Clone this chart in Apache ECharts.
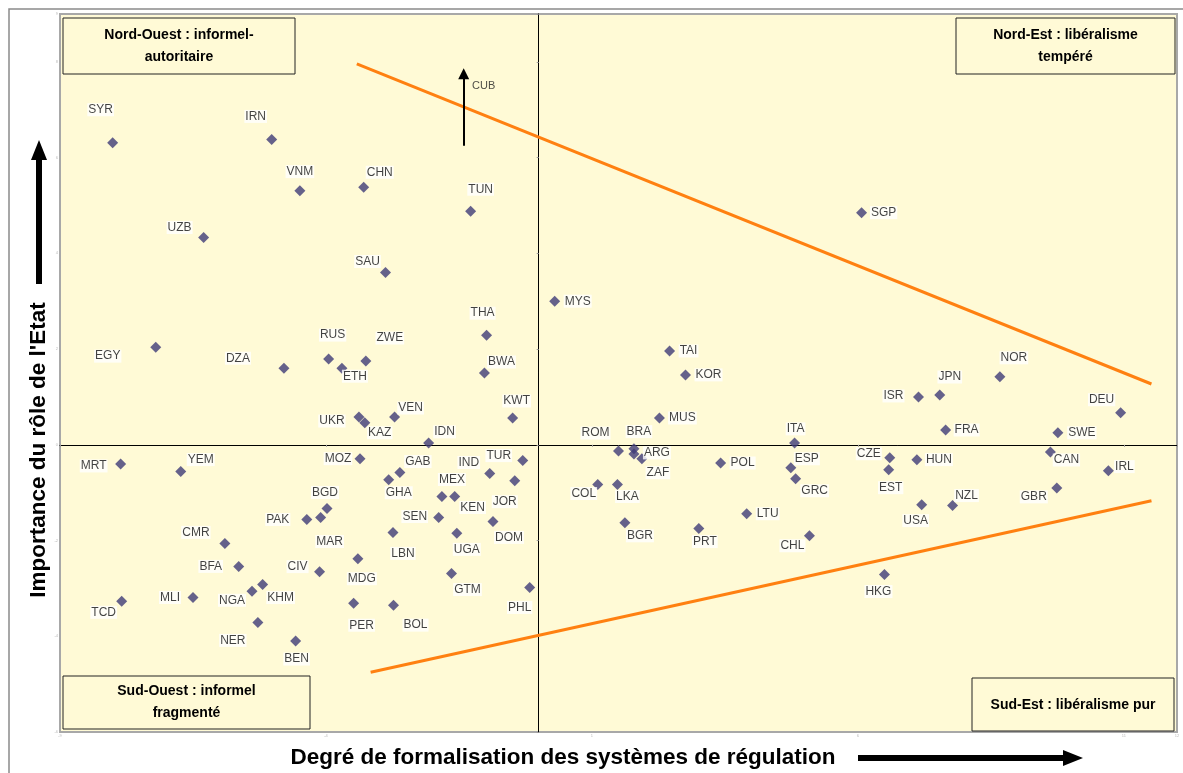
<!DOCTYPE html>
<html>
<head>
<meta charset="utf-8">
<script src="https://cdn.jsdelivr.net/npm/echarts@6/dist/echarts.min.js"></script>
<style>
html,body{margin:0;padding:0;background:#fff;}
#chart{width:1183px;height:773px;}
</style>
</head>
<body>
<div id="chart"></div>
<script>
// ---- data ----
const countries = ['SYR','IRN','VNM','CHN','UZB','TUN','SAU','MYS','THA','EGY','DZA','RUS','ETH','ZWE','BWA','TAI','KOR','KWT','UKR','KAZ','VEN','IDN','MUS','SGP','NOR','JPN','ISR','DEU','FRA','SWE','ITA','ROM','BRA','ARG','ZAF','POL','ESP','GRC','CZE','EST','HUN','CAN','IRL','GBR','NZL','USA','LKA','COL','BGR','PRT','LTU','CHL','HKG','MRT','YEM','MOZ','GAB','GHA','TUR','IND','JOR','MEX','KEN','DOM','SEN','UGA','LBN','GTM','PHL','BOL','PER','MDG','MAR','PAK','BGD','CMR','BFA','CIV','MLI','TCD','NGA','KHM','NER','BEN'];
const formalisation = [-8.01,-5.02,-4.49,-3.29,-6.30,-1.28,-2.88,0.30,-0.98,-7.20,-4.79,-3.95,-3.70,-3.25,-1.02,2.46,2.76,-0.49,-3.38,-3.27,-2.71,-2.07,2.27,6.07,8.67,7.54,7.14,10.94,7.65,9.76,4.81,1.50,1.79,1.79,1.94,3.42,4.74,4.83,6.60,6.58,7.11,9.62,10.71,9.74,7.78,7.20,1.48,1.11,1.62,3.01,3.91,5.09,6.50,-7.86,-6.73,-3.36,-2.61,-2.82,-0.30,-0.92,-0.45,-1.82,-1.58,-0.86,-1.88,-1.54,-2.74,-1.64,-0.17,-2.73,-3.48,-3.40,-4.10,-4.36,-3.98,-5.90,-5.64,-4.12,-6.50,-7.84,-5.39,-5.19,-5.28,-4.57];
const roleEtat = [6.31,6.38,5.31,5.38,4.33,4.88,3.60,3.00,2.29,2.04,1.60,1.79,1.60,1.75,1.50,1.96,1.46,0.56,0.58,0.46,0.58,0.04,0.56,4.85,1.42,1.04,1.00,0.67,0.31,0.25,0.04,-0.13,-0.08,-0.19,-0.29,-0.38,-0.48,-0.71,-0.27,-0.52,-0.31,-0.15,-0.54,-0.90,-1.27,-1.25,-0.83,-0.83,-1.63,-1.75,-1.44,-1.90,-2.71,-0.40,-0.56,-0.29,-0.58,-0.73,-0.33,-0.60,-0.75,-1.08,-1.08,-1.60,-1.52,-1.85,-1.83,-2.69,-2.98,-3.35,-3.31,-2.38,-1.52,-1.56,-1.33,-2.06,-2.54,-2.65,-3.19,-3.27,-3.06,-2.92,-3.71,-4.10];
const upperLine = [[-3.42,7.96],[11.52,1.27]];
const lowerLine = [[-3.16,-4.75],[11.52,-1.17]];
const cubArrow = {name:'CUB', x:-1.41, from:6.25, to:7.75};
const xTicks = {min:-9, max:12, interval:5};
const yTicks = {min:-6, max:9, interval:2};
const quadrantTitles = {
  nw:['Nord-Ouest : informel-','autoritaire'],
  ne:['Nord-Est : libéralisme','tempéré'],
  sw:['Sud-Ouest : informel','fragmenté'],
  se:['Sud-Est : libéralisme pur']
};
const xTitle = 'Degré de formalisation des systèmes de régulation';
const yTitle = "Importance du rôle de l'Etat";

// ---- label placement (layout only) ----
const labelOffsets = [[-12,-33],[-16,-23],[0,-19],[16,-15],[-24,-10],[10,-22],[-18,-11],[23,0],[-4,-22],[-48,9],[-46,-10],[4,-24],[13,8],[24,-23],[17,-11],[19,0],[23,0],[4,-17],[-27,4],[15,10],[16,-9],[16,-11],[23,0],[22,0],[14,-19],[10,-18],[-25,-1],[-19,-13],[21,0],[24,0],[1,-14],[-23,-18],[5,-17],[23,-1],[16,14],[22,0],[16,-9],[19,12],[-21,-4],[2,18],[22,0],[16,8],[16,-4],[-23,9],[14,-10],[-6,16],[10,12],[-14,9],[15,13],[6,13],[21,0],[-17,10],[-6,17],[-27,2],[20,-12],[-22,0],[18,-11],[10,13],[-24,-5],[-21,-11],[-10,21],[10,-17],[18,11],[16,16],[-24,-1],[10,16],[10,21],[16,16],[-10,20],[22,20],[8,22],[4,20],[9,24],[-29,0],[-2,-16],[-29,-11],[-28,0],[-22,-5],[-23,0],[-18,11],[-20,9],[18,13],[-25,18],[1,18]];

const FONT = '"Liberation Sans", Arial, sans-serif';
const BG = '#FFFAD6';

const points = countries.map((c,i)=>({
  name:c,
  value:[formalisation[i], roleEtat[i]],
  label:{offset:labelOffsets[i]}
}));

function box(x,y,w,h,lines,cy){
  const els=[{type:'rect',shape:{x:x,y:y,width:w,height:h},style:{fill:BG,stroke:'#222',lineWidth:1},z:10}];
  els.push({type:'text',x:x+w/2,y:cy,style:{text:lines.join('\n'),font:'bold 14px '+FONT,fill:'#000',align:'center',verticalAlign:'middle',lineHeight:22},z:11});
  return els;
}

const chart = echarts.init(document.getElementById('chart'));
chart.setOption({
  animation:false,
  backgroundColor:'#fff',
  grid:{left:60,top:14,width:1117,height:718,show:true,backgroundColor:BG,borderColor:'#A8A8A8',borderWidth:2},
  xAxis:{type:'value',min:xTicks.min,max:xTicks.max,interval:xTicks.interval,
    axisLine:{onZero:true,lineStyle:{color:'#000',width:1}},
    axisTick:{show:true,length:2,lineStyle:{color:'#999'}},
    axisLabel:{fontSize:4,color:'#bbb',margin:2},
    splitLine:{show:false}},
  yAxis:{type:'value',min:yTicks.min,max:yTicks.max,interval:yTicks.interval,
    axisLine:{onZero:true,lineStyle:{color:'#000',width:1}},
    axisTick:{show:true,length:2,lineStyle:{color:'#999'}},
    axisLabel:{fontSize:4,color:'#bbb',margin:2},
    splitLine:{show:false}},
  series:[
    {type:'line',data:upperLine,symbol:'none',silent:true,lineStyle:{color:'#FF8011',width:3},z:3},
    {type:'line',data:lowerLine,symbol:'none',silent:true,lineStyle:{color:'#FF8011',width:3},z:3},
    {type:'scatter',data:[{name:cubArrow.name,value:[cubArrow.x,cubArrow.to]}],symbolSize:0,silent:true,
      label:{show:true,formatter:'{b}',position:'inside',offset:[20,12],fontFamily:FONT,fontSize:11,color:'#222'},
      markLine:{silent:true,symbol:['none','triangle'],symbolSize:11,label:{show:false},
        lineStyle:{color:'#000',width:2,type:'solid'},
        data:[[{coord:[cubArrow.x,cubArrow.from]},{coord:[cubArrow.x,cubArrow.to]}]]},z:4},
    {type:'scatter',data:points,symbol:'diamond',symbolSize:11,
      itemStyle:{color:'#3E3B77'},
      label:{show:true,formatter:'{b}',position:'inside',fontFamily:FONT,fontSize:12,color:'#111',backgroundColor:'#fff',padding:[1,1,0,1]},
      z:5}
  ],
  graphic:[
    {type:'rect',shape:{x:9,y:9,width:1200,height:800},style:{fill:'none',stroke:'#8a8a8a',lineWidth:1.5},z:0,silent:true},
    ...box(63,18,232,56,quadrantTitles.nw,46),
    ...box(956,18,219,56,quadrantTitles.ne,46),
    ...box(63,676,247,53,quadrantTitles.sw,702),
    ...box(972,678,202,53,quadrantTitles.se,705),
    {type:'text',x:563,y:758,style:{text:xTitle,font:'bold 22.5px '+FONT,fill:'#000',align:'center',verticalAlign:'middle'}},
    {type:'rect',shape:{x:858,y:755,width:208,height:6},style:{fill:'#000'}},
    {type:'polygon',shape:{points:[[1083,758],[1063,750],[1063,766]]},style:{fill:'#000'}},
    {type:'text',x:39,y:450,rotation:Math.PI/2,style:{text:yTitle,font:'bold 22.5px '+FONT,fill:'#000',align:'center',verticalAlign:'middle'}},
    {type:'rect',shape:{x:36,y:156,width:6,height:128},style:{fill:'#000'}},
    {type:'polygon',shape:{points:[[39,140],[31,160],[47,160]]},style:{fill:'#000'}}
  ]
});
</script>
</body>
</html>
